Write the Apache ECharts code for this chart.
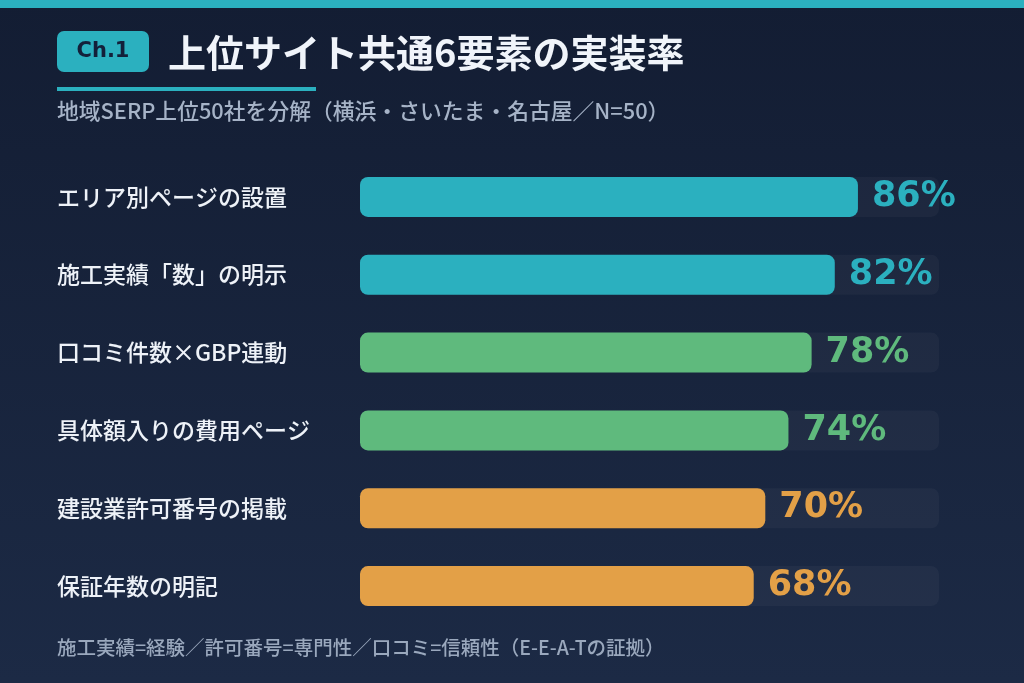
<!DOCTYPE html>
<html>
<head>
<meta charset="utf-8">
<style>
  html, body { margin: 0; padding: 0; }
  #chart { width: 1024px; height: 683px; }
</style>
<script src="https://cdn.jsdelivr.net/npm/echarts@6/dist/echarts.min.js"></script>
</head>
<body>
<div id="chart"></div>
<script>
// 項目名（上から順）
const categories = [
  "エリア別ページの設置",
  "施工実績「数」の明示",
  "口コミ件数×GBP連動",
  "具体額入りの費用ページ",
  "建設業許可番号の掲載",
  "保証年数の明記"
];
// 実装率（%）
const values = [86, 82, 78, 74, 70, 68];
// 背景トラック（100%）
const trackValues = [100, 100, 100, 100, 100, 100];
// 各バーの色
const barColors = ["#2bb0bf", "#2bb0bf", "#5fba7d", "#5fba7d", "#e3a047", "#e3a047"];

const FONT = "'Noto Sans CJK JP', 'Noto Sans', sans-serif";
const NUM_FONT = "'DejaVu Sans', 'Noto Sans CJK JP', sans-serif";

(function () {
  const myChart = echarts.init(document.getElementById("chart"));

  const option = {
    backgroundColor: new echarts.graphic.LinearGradient(0, 0, 0, 1, [
      { offset: 0, color: "#131d33" },
      { offset: 1, color: "#1c2a45" }
    ]),
    animation: false,
    graphic: [
      // 上部の帯
      { type: "rect", shape: { x: 0, y: 0, width: 1024, height: 8 }, style: { fill: "#2bb0bf" } },
      // Ch.1 バッジ
      { type: "rect", shape: { x: 57, y: 31, width: 92, height: 41, r: 7 }, style: { fill: "#2bb0bf" } },
      {
        type: "text", x: 103, y: 52,
        style: { text: "Ch.1", fill: "#13203a", font: "bold 21px " + NUM_FONT, align: "center", verticalAlign: "middle" }
      },
      {
        type: "text", x: 168, y: 53,
        style: { text: "上位サイト共通6要素の実装率", fill: "#f0f4fa", font: "bold 38px " + FONT, verticalAlign: "middle" }
      },
      // 下線
      { type: "rect", shape: { x: 57, y: 87, width: 259, height: 4 }, style: { fill: "#2bb0bf" } },
      {
        type: "text", x: 57, y: 111,
        style: { text: "地域SERP上位50社を分解（横浜・さいたま・名古屋／N=50）", fill: "#a6b3c7", font: "500 21.8px " + FONT, verticalAlign: "middle" }
      },
      {
        type: "text", x: 57, y: 648,
        style: { text: "施工実績=経験／許可番号=専門性／口コミ=信頼性（E-E-A-Tの証拠）", fill: "#9aa8bd", font: "500 19.5px " + FONT, verticalAlign: "middle" }
      }
    ],
    grid: { left: 360, right: 85, top: 158, bottom: 58 },
    xAxis: { type: "value", min: 0, max: 100, show: false },
    yAxis: {
      type: "category",
      inverse: true,
      data: categories,
      axisLine: { show: false },
      axisTick: { show: false },
      axisLabel: {
        align: "left",
        margin: 303,
        color: "#eef2f8",
        fontSize: 23,
        fontWeight: 500,
        fontFamily: FONT,
        padding: [0, 0, 6, 0]
      }
    },
    series: [
      {
        name: "track",
        type: "bar",
        data: trackValues,
        barWidth: 40,
        silent: true,
        z: 1,
        itemStyle: { color: "rgba(255,255,255,0.035)", borderRadius: 8 }
      },
      {
        name: "実装率",
        type: "bar",
        data: values.map(function (v, i) {
          return { value: v, label: { color: barColors[i] } };
        }),
        barWidth: 40,
        barGap: "-100%",
        z: 2,
        itemStyle: {
          borderRadius: 8,
          color: function (params) { return barColors[params.dataIndex]; }
        },
        label: {
          show: true,
          position: "right",
          distance: 14,
          formatter: "{c}%",
          fontSize: 35,
          fontWeight: "bold",
          fontFamily: NUM_FONT,
          padding: [0, 0, 6, 0]
        }
      }
    ]
  };

  myChart.setOption(option);
  window.addEventListener("resize", function () {
    myChart.resize();
  });
})();
</script>
</body>
</html>
